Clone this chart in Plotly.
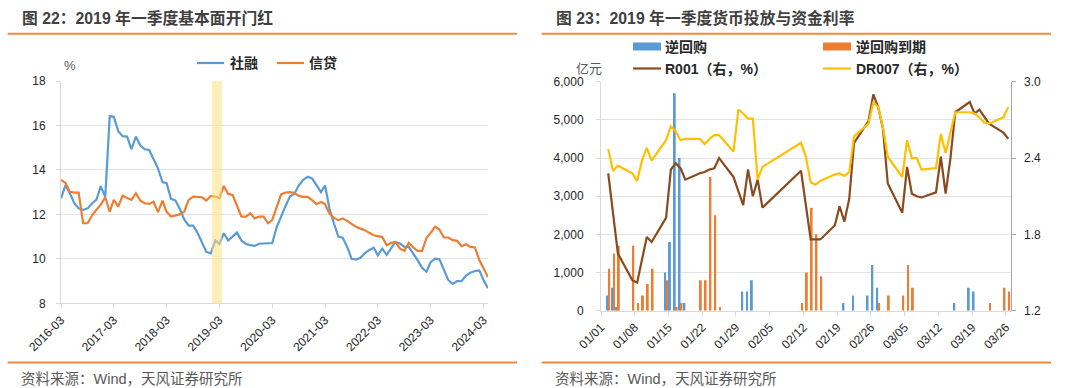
import plotly.graph_objects as go
import pandas as pd

W, H = 1080, 388
FONT = "Liberation Sans, Noto Sans CJK SC, sans-serif"

# ---------------- Left chart: 社融 / 信贷 (monthly, %) ----------------
months = pd.date_range("2016-03-01", periods=98, freq="MS")
tsf = [12.72, 13.32, 12.95, 12.5, 12.27, 12.2, 12.27, 12.49, 12.66, 13.27, 12.79, 16.42,
       16.39, 15.74, 15.52, 15.5, 14.93, 15.5, 15.1, 14.93, 14.9, 14.47, 14.06, 13.45,
       13.4, 12.7, 12.63, 12.24, 11.77, 11.49, 11.49, 11.17, 10.77, 10.31, 10.25, 10.83,
       10.67, 11.15, 10.82, 11.0, 11.18, 10.82, 10.67, 10.62, 10.58, 10.68, 10.68, 10.71,
       10.71, 11.43, 11.93, 12.38, 12.8, 12.93, 13.31, 13.55, 13.69, 13.62, 13.32, 13.0,
       13.3, 12.25, 11.6, 11.0, 10.95, 10.54, 10.0, 9.97, 10.05, 10.25, 10.4, 10.5,
       10.16, 10.46, 10.18, 10.5, 10.76, 10.69, 10.54, 10.54, 10.25, 9.94, 9.6, 9.42,
       9.85, 10.01, 9.98, 9.5, 9.05, 8.87, 9.0, 9.0, 9.25, 9.37, 9.45, 9.48,
       9.05, 8.68]
loan = [13.55, 13.42, 13.02, 12.98, 12.98, 11.6, 11.6, 11.95, 12.21, 12.44, 12.77, 12.12,
        12.65, 12.35, 12.84, 12.75, 12.65, 12.95, 12.62, 12.5, 12.47, 12.57, 12.1, 12.62,
        12.12, 11.9, 11.94, 12.0, 12.12, 12.65, 12.8, 12.77, 12.77, 12.62, 12.83, 12.8,
        12.72, 13.28, 12.92, 12.87, 12.42, 11.9, 11.9, 12.05, 11.82, 11.9, 11.9, 11.6,
        11.75, 12.35, 12.9, 12.98, 13.0, 12.96, 12.83, 12.79, 12.79, 12.64, 12.46, 12.56,
        12.46, 12.04, 11.84, 11.74, 11.82, 11.71, 11.56, 11.44, 11.36, 11.29, 11.17, 11.06,
        11.02, 10.98, 10.61, 10.72, 10.76, 10.46, 10.36, 10.72, 10.51, 10.36, 10.36, 10.94,
        11.17, 11.44, 11.32, 10.96, 10.96, 10.84, 10.81, 10.57, 10.66, 10.54, 10.51, 9.95,
        9.58, 9.18]
name_tsf, name_loan = "社融", "信贷"

# ---------------- Right chart: 2019Q1 daily ----------------
days = ["01-02", "01-03", "01-04", "01-07", "01-08", "01-09", "01-10", "01-11", "01-14", "01-15",
        "01-16", "01-17", "01-18", "01-21", "01-22", "01-23", "01-24", "01-25", "01-28", "01-29",
        "01-30", "01-31", "02-01", "02-02", "02-03", "02-11", "02-12", "02-13", "02-14", "02-15",
        "02-18", "02-19", "02-20", "02-21", "02-22", "02-25", "02-26", "02-27", "02-28", "03-01",
        "03-04", "03-05", "03-06", "03-07", "03-08", "03-11", "03-12", "03-13", "03-14", "03-15",
        "03-18", "03-19", "03-20", "03-21", "03-22", "03-25", "03-26"]
rr_inject = [400, 600, 100, 0, 0, 0, 0, 0, 1000, 1800,
             5700, 4000, 200, 0, 0, 0, 0, 0, 0, 0,
             500, 500, 800, 0, 0, 0, 0, 0, 0, 0,
             0, 0, 200, 0, 400, 400, 1200, 600, 0, 0,
             0, 0, 0, 0, 0, 0, 0, 0, 0, 200,
             600, 500, 0, 0, 0, 0, 0]
rr_mature = [1100, 1500, 1700, 1700, 200, 400, 700, 1100, 800, 0,
             100, 200, 0, 800, 800, 3500, 2500, 100, 0, 0,
             0, 0, 0, 0, 0, 200, 1000, 2700, 2000, 900,
             0, 0, 0, 0, 0, 0, 0, 200, 0, 400,
             400, 1200, 600, 0, 0, 0, 0, 0, 0, 0,
             0, 0, 0, 0, 200, 600, 500]
r001 = [2.28, 1.96, 1.65, 1.44, 1.42, 1.60, 1.78, 1.74, 1.93, 2.31,
        2.36, 2.32, 2.23, 2.28, 2.29, 2.31, 2.32, 2.40, 2.25, 2.14,
        2.03, 2.31, 2.10, 2.23, 2.01, 2.30, 2.03, 1.76, 1.76, 1.76,
        1.87, 2.02, 1.90, 2.08, 2.52, 2.69, 2.90, 2.80, 2.63, 2.20,
        1.97, 2.33, 2.12, 2.10, 2.09, 2.13, 2.41, 2.12, 2.40, 2.76,
        2.84, 2.75, 2.78, 2.72, 2.67, 2.60, 2.55]
dr007 = [2.47, 2.30, 2.34, 2.28, 2.22, 2.38, 2.48, 2.38, 2.54, 2.65,
         2.61, 2.54, 2.55, 2.55, 2.51, 2.55, 2.58, 2.58, 2.45, 2.78,
         2.75, 2.71, 2.71, 2.23, 2.33, 2.52, 2.41, 2.21, 2.19, 2.22,
         2.27, 2.28, 2.26, 2.29, 2.57, 2.67, 2.84, 2.80, 2.64, 2.41,
         2.25, 2.54, 2.40, 2.40, 2.31, 2.32, 2.59, 2.44, 2.60, 2.76,
         2.76, 2.75, 2.72, 2.68, 2.67, 2.72, 2.80]
name_inj, name_mat, name_r001, name_dr007 = "逆回购", "逆回购到期", "R001（右，%）", "DR007（右，%）"

C_BLUE, C_ORANGE, C_BROWN, C_YELLOW = "#5B9BD5", "#ED7D31", "#8A4A1E", "#FFC000"
RULE = "#F08A3C"
GRID = "#E3E3E3"
AX = "#D9D9D9"

fig = go.Figure()
fig.add_trace(go.Scatter(x=months, y=tsf, mode="lines", name=name_tsf,
                         line=dict(color=C_BLUE, width=2.2), xaxis="x", yaxis="y", showlegend=False))
fig.add_trace(go.Scatter(x=months, y=loan, mode="lines", name=name_loan,
                         line=dict(color=C_ORANGE, width=2.2), xaxis="x", yaxis="y", showlegend=False))

xd = pd.to_datetime(["2019-" + d for d in days]) + pd.Timedelta(hours=12)
fig.add_trace(go.Bar(x=xd, y=rr_inject, name=name_inj, marker=dict(color=C_BLUE, line=dict(width=0)),
                     xaxis="x2", yaxis="y2", showlegend=False))
fig.add_trace(go.Bar(x=xd, y=rr_mature, name=name_mat, marker=dict(color=C_ORANGE, line=dict(width=0)),
                     xaxis="x2", yaxis="y2", showlegend=False))
fig.add_trace(go.Scatter(x=xd, y=r001, mode="lines", name=name_r001,
                         line=dict(color=C_BROWN, width=2.2), xaxis="x2", yaxis="y3", showlegend=False))
fig.add_trace(go.Scatter(x=xd, y=dr007, mode="lines", name=name_dr007,
                         line=dict(color=C_YELLOW, width=2.2), xaxis="x2", yaxis="y3", showlegend=False))

tick_common = dict(ticks="outside", ticklen=4, tickcolor=AX, showline=True, linecolor=AX,
                   zeroline=False, automargin=False, tickfont=dict(size=12, color="#262626"))

fig.update_layout(
    width=W, height=H, margin=dict(l=0, r=0, t=0, b=0, pad=0, autoexpand=False),
    paper_bgcolor="white", plot_bgcolor="white",
    barmode="group", bargap=0.2, bargroupgap=0,
    font=dict(family=FONT, size=12, color="#262626"),
    xaxis=dict(domain=[61 / W, 488 / W], anchor="y", type="date",
               range=["2016-03-01", "2024-04-01"], tick0="2016-03-01", dtick="M12",
               tickformat="%Y-%m", tickangle=-45, showgrid=False, **tick_common),
    yaxis=dict(domain=[1 - 303.3 / H, 1 - 81 / H], anchor="x", range=[8, 18], dtick=2,
               showgrid=True, gridcolor=GRID, gridwidth=1, ticklabelstandoff=8, **tick_common),
    xaxis2=dict(domain=[601 / W, 1010.7 / W], anchor="y2", type="date",
                range=["2019-01-01", "2019-03-27"], tick0="2019-01-01", dtick=7 * 86400000,
                tickformat="%m/%d", tickangle=-45, showgrid=False, **tick_common),
    yaxis2=dict(domain=[1 - 310.7 / H, 1 - 81.7 / H], anchor="x2", range=[0, 6000], dtick=1000,
                tickformat=",", showgrid=True, gridcolor=GRID, gridwidth=1, ticklabelstandoff=10,
                **tick_common),
    yaxis3=dict(overlaying="y2", anchor="x2", side="right", range=[1.2, 3.0], dtick=0.6,
                tickformat=".1f", showgrid=False, ticks="outside", ticklen=4, tickcolor="#A6A6A6",
                showline=True, linecolor="#A6A6A6", zeroline=False, automargin=False,
                ticklabelstandoff=6, tickfont=dict(size=12, color="#262626")),
)

shapes = [
    dict(type="rect", xref="x", yref="y domain", x0="2019-01-08", x1="2019-03-19", y0=0, y1=1,
         fillcolor="#FFE080", opacity=0.55, line=dict(width=0), layer="above"),
]
for (xa, xb) in [(7.6, 517), (541.7, 1051)]:
    for yy in (33.8, 362.4):
        shapes.append(dict(type="line", xref="paper", yref="paper", x0=xa / W, x1=xb / W,
                           y0=1 - yy / H, y1=1 - yy / H, line=dict(color=RULE, width=2)))


def seg(x0, x1, y, color, width):
    return dict(type="line", xref="paper", yref="paper", x0=x0 / W, x1=x1 / W,
                y0=1 - y / H, y1=1 - y / H, line=dict(color=color, width=width))


def box(x0, x1, y, color):
    return dict(type="rect", xref="paper", yref="paper", x0=x0 / W, x1=x1 / W,
                y0=1 - (y + 4) / H, y1=1 - (y - 4) / H, fillcolor=color, line=dict(width=0))


ROW1, ROW2, LROW = 46.5, 68.5, 63
shapes += [
    seg(197, 224, LROW, C_BLUE, 2.2), seg(277, 304, LROW, C_ORANGE, 2.2),
    box(633, 661, ROW1, C_BLUE), box(823, 851, ROW1, C_ORANGE),
    seg(633, 661, ROW2, C_BROWN, 2.2), seg(823, 851, ROW2, C_YELLOW, 2.2),
]


def ann(text, x, y, size, color="#262626", xanchor="left", bold=False):
    return dict(text=f"<b>{text}</b>" if bold else text, x=x / W, y=1 - y / H,
                xref="paper", yref="paper", xanchor=xanchor, yanchor="middle",
                showarrow=False, font=dict(family=FONT, size=size, color=color))


annotations = [
    ann("图 22：2019 年一季度基本面开门红", 20, 18, 15.8, "#404040", bold=True),
    ann("图 23：2019 年一季度货币投放与资金利率", 554, 18, 15.8, "#404040", bold=True),
    ann("资料来源：Wind，天风证券研究所", 19, 379, 14.5, "#595959"),
    ann("资料来源：Wind，天风证券研究所", 553, 379, 14.5, "#595959"),
    ann("%", 70, 65.5, 13, "#595959", xanchor="center"),
    ann("亿元", 589, 68, 13, "#595959", xanchor="center"),
    ann(name_tsf, 228, LROW, 14, "#262626", bold=True),
    ann(name_loan, 307, LROW, 14, "#262626", bold=True),
    ann(name_inj, 663, ROW1, 14, "#262626", bold=True),
    ann(name_mat, 854, ROW1, 14, "#262626", bold=True),
    ann(name_r001, 663, ROW2, 14, "#262626", bold=True),
    ann(name_dr007, 854, ROW2, 14, "#262626", bold=True),
]

fig.update_layout(shapes=shapes, annotations=annotations)
fig.write_html("out.html", config={"displayModeBar": False},
               post_script="document.body.style.margin='0px';document.body.style.overflow='hidden';")
